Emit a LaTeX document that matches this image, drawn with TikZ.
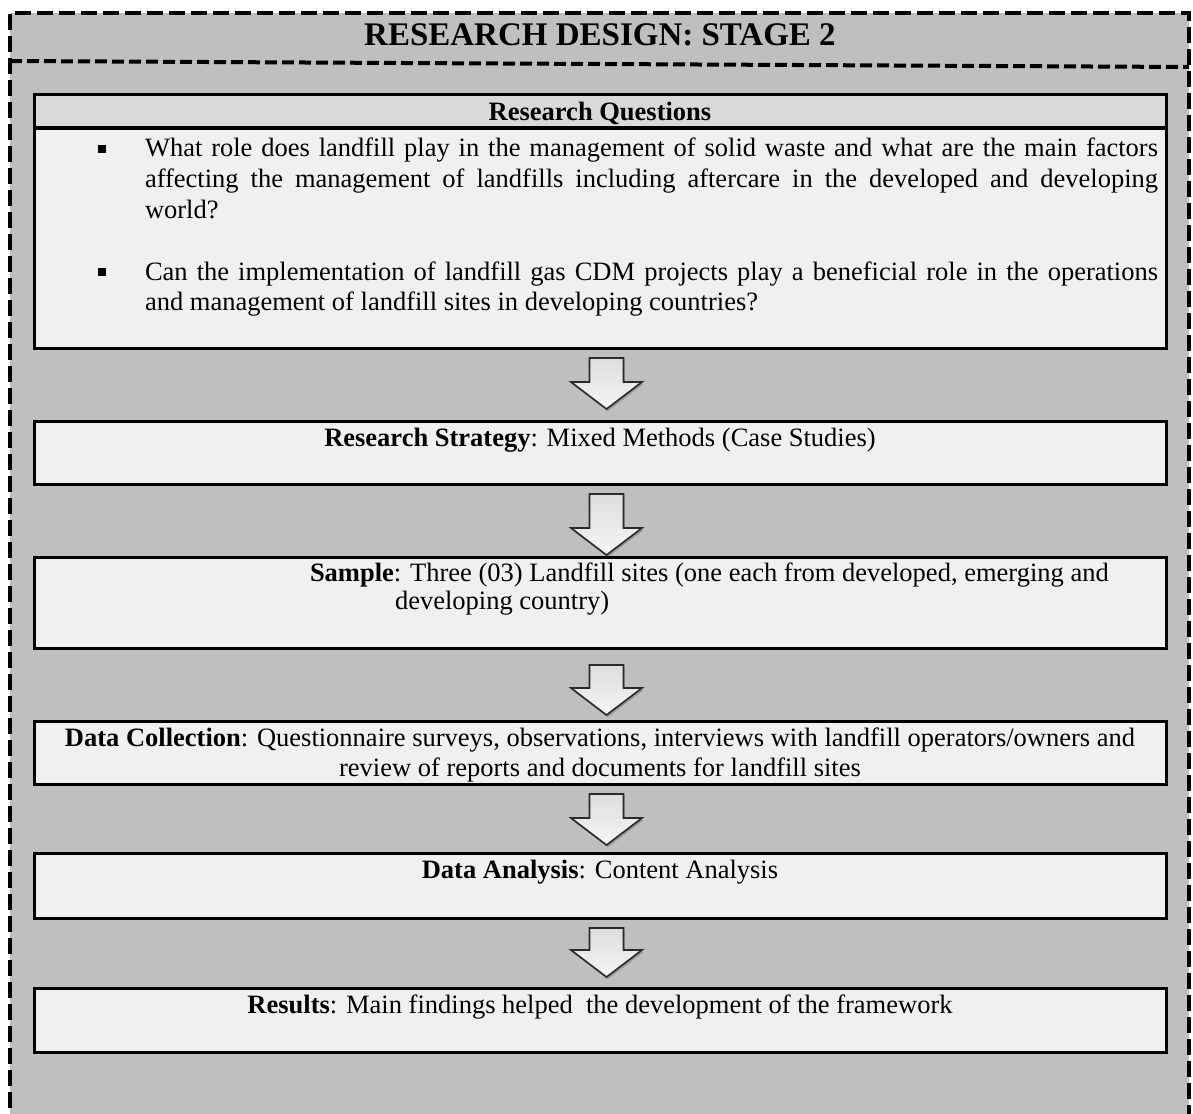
\documentclass[tikz,border=0pt]{standalone}
\usepackage{fontspec}
\setmainfont{Liberation Serif}
\usetikzlibrary{calc,shadows}

\definecolor{panelgray}{HTML}{BFBFBF}
\definecolor{headgray}{HTML}{D9D9D9}
\definecolor{boxfill}{HTML}{F0F0F0}
\definecolor{arrowline}{HTML}{2A2A2A}

% hollow block arrow running from the foot of one box to the head of the next
% #1 upper box, #2 lower box, #3 gap below #1, #4 gap above #2
\newcommand\stagearrow[4]{%
  \path[flowarrow] let \p1=($(#1.south)+(6.5,#3)$), \p2=($(#2.north)+(6.5,-#4)$) in
    (\x1-17pt,\y1) -- (\x1+17pt,\y1) -- (\x1+17pt,\y2+27pt) -- (\x1+35.5pt,\y2+27pt)
    -- (\x1,\y2) -- (\x1-35.5pt,\y2+27pt) -- (\x1-17pt,\y2+27pt) -- cycle;}

\begin{document}
\begin{tikzpicture}[x=1pt,y=-1pt,
  stagebox/.style={draw=black, line width=3pt, fill=boxfill, rectangle,
    inner sep=0pt, outer sep=0pt, anchor=north west, minimum width=1132pt},
  bodytext/.style={font=\fontsize{26.5}{30.5}\selectfont, inner sep=0pt, outer sep=0pt},
  flowarrow/.style={draw=arrowline, line width=1.6pt, line join=miter,
    top color=black!13, bottom color=black!4,
    drop shadow={shadow xshift=1.2pt, shadow yshift=-2.2pt, opacity=.35, fill=black!70}},
  bulletsq/.style={fill=black, inner sep=0pt, minimum size=7.5pt, rectangle},
  outerdash/.style={line width=4.6pt, dash pattern=on 16pt off 6pt, line join=miter},
  innerdash/.style={line width=4pt, dash pattern=on 12pt off 5pt}
]
\clip (0,0) rectangle (1193,1113);
\fill[white] (0,0) rectangle (1193,1113);

% grey panel with its dashed frame, open at the foot
\fill[panelgray] (10,13) rectangle (1189,1125);
\draw[outerdash] (10,1130) -- (10,13) -- (1189,13) -- (1189,1130);
\draw[innerdash] (10,61) -- (1189,67);
\node[font=\bfseries\fontsize{33}{38}\selectfont, inner sep=0pt, anchor=base] (title) at (600,46) {RESEARCH DESIGN: STAGE 2};

% research questions box with its shaded heading strip
\node[stagebox, minimum height=253pt] (rq) at (34,95) {};
\fill[headgray] ($(rq.north west)+(1.5,1.5)$) rectangle ($(rq.north east)+(-1.5,33)$);
\draw[line width=4pt] ($(rq.north west)+(0,33)$) -- ($(rq.north east)+(0,33)$);
\draw[line width=3pt] (rq.north west) rectangle (rq.south east);
\node[bodytext, anchor=base] (rqhead) at (600,121) {\textbf{Research Questions}};

\node[bulletsq] (qa) at (102,149) {};
\node[bodytext, anchor=base west] (qa1) at (145,157) {\makebox[1013pt][s]{What role does landfill play in the management of solid waste and what are the main factors}};
\node[bodytext, anchor=base west] (qa2) at (145,187.5) {\makebox[1013pt][s]{affecting the management of landfills including aftercare in the developed and developing}};
\node[bodytext, anchor=base west] (qa3) at (145,218) {world?};

\node[bulletsq] (qb) at (102,272) {};
\node[bodytext, anchor=base west] (qb1) at (145,280) {\makebox[1013pt][s]{Can the implementation of landfill gas CDM projects play a beneficial role in the operations}};
\node[bodytext, anchor=base west] (qb2) at (145,310.5) {and management of landfill sites in developing countries?};

% research strategy
\node[stagebox, minimum height=63pt] (strategy) at (34,421) {};
\node[bodytext, anchor=base] (strategyt) at (600,446) {\textbf{Research Strategy}: Mixed Methods (Case Studies)};

% sample
\node[stagebox, minimum height=91pt] (sample) at (34,557) {};
\node[bodytext, anchor=base west] (samplet1) at (310,581) {\textbf{Sample}: Three (03) Landfill sites (one each from developed, emerging and};
\node[bodytext, anchor=base west] (samplet2) at (395,609) {developing country)};

% data collection
\node[stagebox, minimum height=63pt] (collect) at (34,721) {};
\node[bodytext, anchor=base] (collectt1) at (600,746) {\textbf{Data Collection}: Questionnaire surveys, observations, interviews with landfill operators/owners and};
\node[bodytext, anchor=base] (collectt2) at (600,776) {review of reports and documents for landfill sites};

% data analysis
\node[stagebox, minimum height=65pt] (analysis) at (34,853) {};
\node[bodytext, anchor=base] (analysist) at (600,878) {\textbf{Data Analysis}: Content Analysis};

% results
\node[stagebox, minimum height=64pt] (results) at (34,988) {};
\node[bodytext, anchor=base] (resultst) at (600,1013) {\textbf{Results}: Main findings helped\ \ the development of the framework};

% arrows between the stages
\stagearrow{rq}{strategy}{10}{12}
\stagearrow{strategy}{sample}{10}{2}
\stagearrow{sample}{collect}{17}{6}
\stagearrow{collect}{analysis}{10}{8}
\stagearrow{analysis}{results}{10}{11}
\end{tikzpicture}
\end{document}
